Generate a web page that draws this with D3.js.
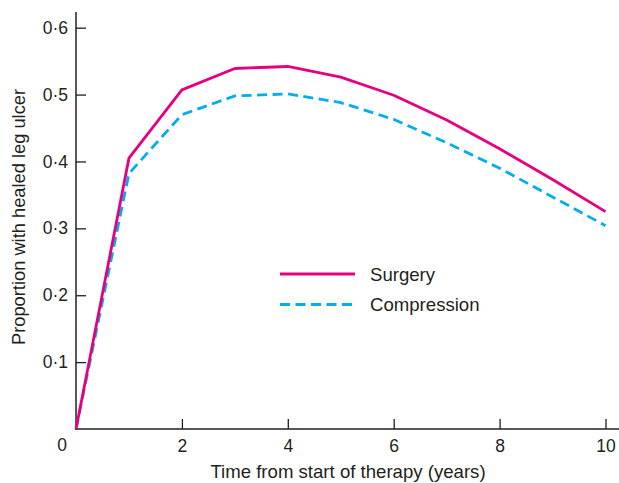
<!DOCTYPE html>
<html>
<head>
<meta charset="utf-8">
<script src="https://cdn.jsdelivr.net/npm/d3@7"></script>
<style>
  html, body { margin: 0; padding: 0; background: #fff; }
  svg { display: block; font-family: "Liberation Sans", Arial, Helvetica, sans-serif; }
</style>
</head>
<body>
<svg id="chart" width="619" height="483"></svg>
<script>
const years = [0, 1, 2, 3, 4, 5, 6, 7, 8, 9, 10];
const surgery = [0, 0.405, 0.507, 0.539, 0.542, 0.526, 0.499, 0.462, 0.419, 0.373, 0.325];
const compression = [0, 0.382, 0.470, 0.498, 0.501, 0.488, 0.463, 0.428, 0.390, 0.347, 0.304];
const xTicks = [2, 4, 6, 8, 10];
const yTicks = [0.1, 0.2, 0.3, 0.4, 0.5, 0.6];
const seriesNames = ["Surgery", "Compression"];

const ink = "#231f20";
const pink = "#e6007e";
const blue = "#00aeef";
const dash = "10,5.5";

const svg = d3.select("#chart");
const x = d3.scaleLinear().domain([0, 10]).range([76, 605.5]);
const y = d3.scaleLinear().domain([0, 0.6]).range([429, 27.7]);
const fmt = d => d3.format(".1f")(d).replace(".", "·");

// Axes
const xAxis = d3.axisBottom(x).tickValues(xTicks).tickSizeInner(-10).tickSizeOuter(0).tickPadding(11);
const gx = svg.append("g").attr("transform", `translate(0,${y(0)})`).call(xAxis);
gx.select(".domain").remove();
gx.selectAll(".tick line").attr("stroke", ink).attr("stroke-width", 1.3);
gx.selectAll(".tick text").attr("fill", ink).attr("font-size", 17.5).attr("font-family", "Liberation Sans, Arial, sans-serif");

const yAxis = d3.axisLeft(y).tickValues(yTicks).tickFormat(fmt).tickSizeInner(-10).tickSizeOuter(0).tickPadding(8);
const gy = svg.append("g").attr("transform", `translate(${x(0)},0)`).call(yAxis);
gy.select(".domain").remove();
gy.selectAll(".tick line").attr("stroke", ink).attr("stroke-width", 1.3);
gy.selectAll(".tick text").attr("fill", ink).attr("font-size", 17.5).attr("font-family", "Liberation Sans, Arial, sans-serif");

// axis lines
svg.append("line").attr("x1", x(0)).attr("x2", x(0)).attr("y1", 12).attr("y2", y(0) + 0.7)
  .attr("stroke", ink).attr("stroke-width", 1.5);
svg.append("line").attr("x1", x(0) - 0.7).attr("x2", 619).attr("y1", y(0)).attr("y2", y(0))
  .attr("stroke", ink).attr("stroke-width", 1.5);

// origin label
svg.append("text").attr("x", x(0) - 14).attr("y", y(0) + 22)
  .attr("text-anchor", "middle").attr("font-size", 17.5).attr("fill", ink).text("0");

// Lines
const line = d3.line().x((d, i) => x(years[i])).y(d => y(d));
svg.append("path").datum(compression).attr("d", line)
  .attr("fill", "none").attr("stroke", blue).attr("stroke-width", 2.8)
  .attr("stroke-dasharray", dash);
svg.append("path").datum(surgery).attr("d", line)
  .attr("fill", "none").attr("stroke", pink).attr("stroke-width", 2.8)
  .attr("stroke-linejoin", "round");

// Legend
const legend = svg.append("g");
const legItems = [
  { name: seriesNames[0], color: pink, dash: null, yy: 274 },
  { name: seriesNames[1], color: blue, dash: dash, yy: 304.5 }
];
legItems.forEach(it => {
  legend.append("line").attr("x1", 280).attr("x2", 355).attr("y1", it.yy).attr("y2", it.yy)
    .attr("stroke", it.color).attr("stroke-width", 2.8)
    .attr("stroke-dasharray", it.dash);
  legend.append("text").attr("x", 370).attr("y", it.yy).attr("dy", "0.36em")
    .attr("font-size", 18.6).attr("fill", ink).text(it.name);
});

// Titles
svg.append("text").attr("x", 348).attr("y", 478).attr("text-anchor", "middle")
  .attr("font-size", 18.6).attr("fill", ink).text("Time from start of therapy (years)");
svg.append("text").attr("transform", "translate(25,217) rotate(-90)").attr("text-anchor", "middle")
  .attr("font-size", 18.3).attr("fill", ink).text("Proportion with healed leg ulcer");
</script>
</body>
</html>
